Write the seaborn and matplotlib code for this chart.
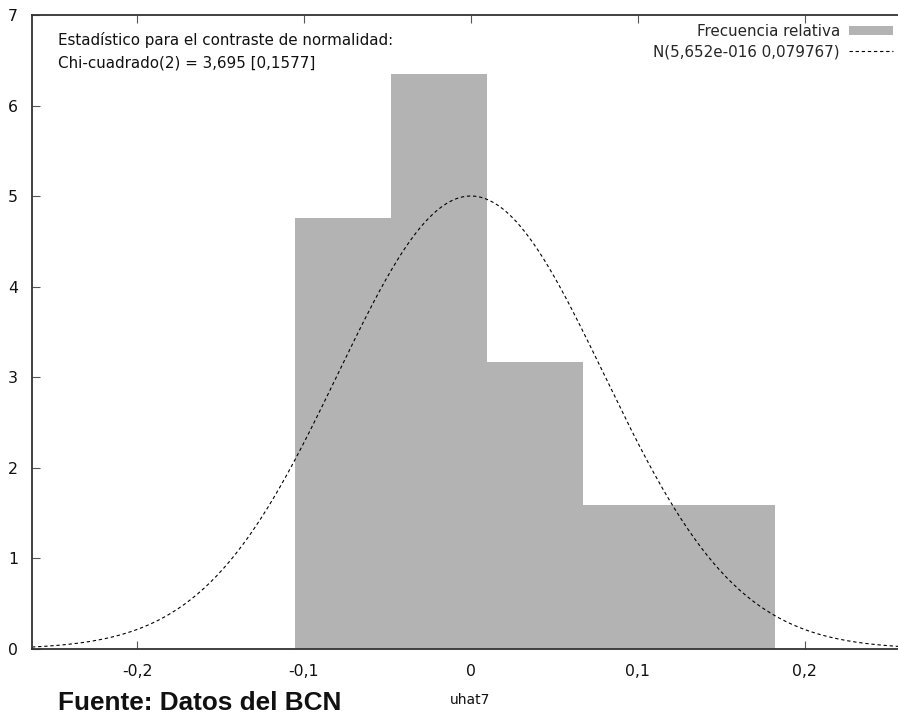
import numpy as np
import pandas as pd
import matplotlib
matplotlib.use("Agg")
import matplotlib.pyplot as plt
import seaborn as sns
from matplotlib.patches import Patch
from matplotlib.lines import Line2D

# ---- data ----
bin_edges = [-0.1054, -0.0479, 0.0096, 0.0671, 0.1246, 0.1821]
rel_freq = [4.76, 6.35, 3.17, 1.59, 1.59]
norm_mean = 5.652e-16
norm_sd = 0.079767
x_ticks = [-0.2, -0.1, 0.0, 0.1, 0.2]
x_tick_labels = ["-0,2", "-0,1", "0", "0,1", "0,2"]
y_ticks = [0, 1, 2, 3, 4, 5, 6, 7]
stat_lines = ["Estadístico para el contraste de normalidad:",
              "Chi-cuadrado(2) = 3,695 [0,1577]"]
legend_labels = ["Frecuencia relativa", "N(5,652e-016 0,079767)"]
x_label = "uhat7"
source_text = "Fuente: Datos del BCN"

sns.set_theme(style="white")
plt.rcParams['font.family'] = ['DejaVu Sans']

W, H = 898, 719
fig = plt.figure(figsize=(W / 100, H / 100), dpi=100)
ax = fig.add_axes([32 / W, 1 - 649 / H, 1 - 32 / W, (649 - 15) / H])

centers = [(bin_edges[i] + bin_edges[i + 1]) / 2 for i in range(len(rel_freq))]
df = pd.DataFrame({"x": centers, "w": rel_freq})
sns.histplot(data=df, x="x", weights="w", bins=bin_edges, stat="count",
             color="#b3b3b3", alpha=1.0, edgecolor="none", linewidth=0, ax=ax)

dash = (0, (3, 2.5))
xs = np.linspace(-0.263, 0.256, 400)
ys = np.exp(-0.5 * ((xs - norm_mean) / norm_sd) ** 2) / (norm_sd * np.sqrt(2 * np.pi))
sns.lineplot(x=xs, y=ys, color="black", linewidth=0.8, linestyle=dash, ax=ax)

ax.set_xlim(-0.263, 0.256)
ax.set_ylim(0, 7)
ax.set_xticks(x_ticks)
ax.set_xticklabels(x_tick_labels)
ax.set_yticks(y_ticks)
ax.set_xlabel("")
ax.set_ylabel("")

for s in ["left", "bottom", "top"]:
    ax.spines[s].set_visible(True)
    ax.spines[s].set_color("#333333")
    ax.spines[s].set_linewidth(1.3)
ax.spines["right"].set_visible(False)

ax.tick_params(axis="x", direction="in", length=6, width=0.8, color="#555555",
               top=True, bottom=True, labelsize=11.3, pad=11, labelcolor="#111111")
ax.tick_params(axis="y", direction="in", length=6, width=0.8, color="#555555",
               left=True, right=False, labelsize=11.3, pad=10, labelcolor="#111111")

fig.text(58 / W, 1 - 45 / H, stat_lines[0], fontsize=10.9, va="baseline", ha="left", color="#111111")
fig.text(58 / W, 1 - 68 / H, stat_lines[1], fontsize=10.9, va="baseline", ha="left", color="#111111")

handles = [Patch(facecolor="#b3b3b3", edgecolor="none"),
           Line2D([0], [0], color="black", linewidth=0.8, linestyle=dash)]
leg = ax.legend(handles, legend_labels, loc="upper right",
                bbox_to_anchor=(893 / W, 1 - 24 / H), bbox_transform=fig.transFigure,
                markerfirst=False, frameon=False, fontsize=10.9, handlelength=2.9,
                handleheight=0.55, handletextpad=0.6, labelspacing=0.35,
                borderpad=0.0, borderaxespad=0.0)

fig.text(470 / W, 1 - 700 / H, x_label, fontsize=10, ha="center", va="center", color="#111111")
fig.text(58 / W, 1 - 703 / H, source_text, fontsize=18.8, fontweight="bold",
         ha="left", va="center", family=["Liberation Sans", "DejaVu Sans"], color="#111111")

fig.savefig("out.png", dpi=100)
